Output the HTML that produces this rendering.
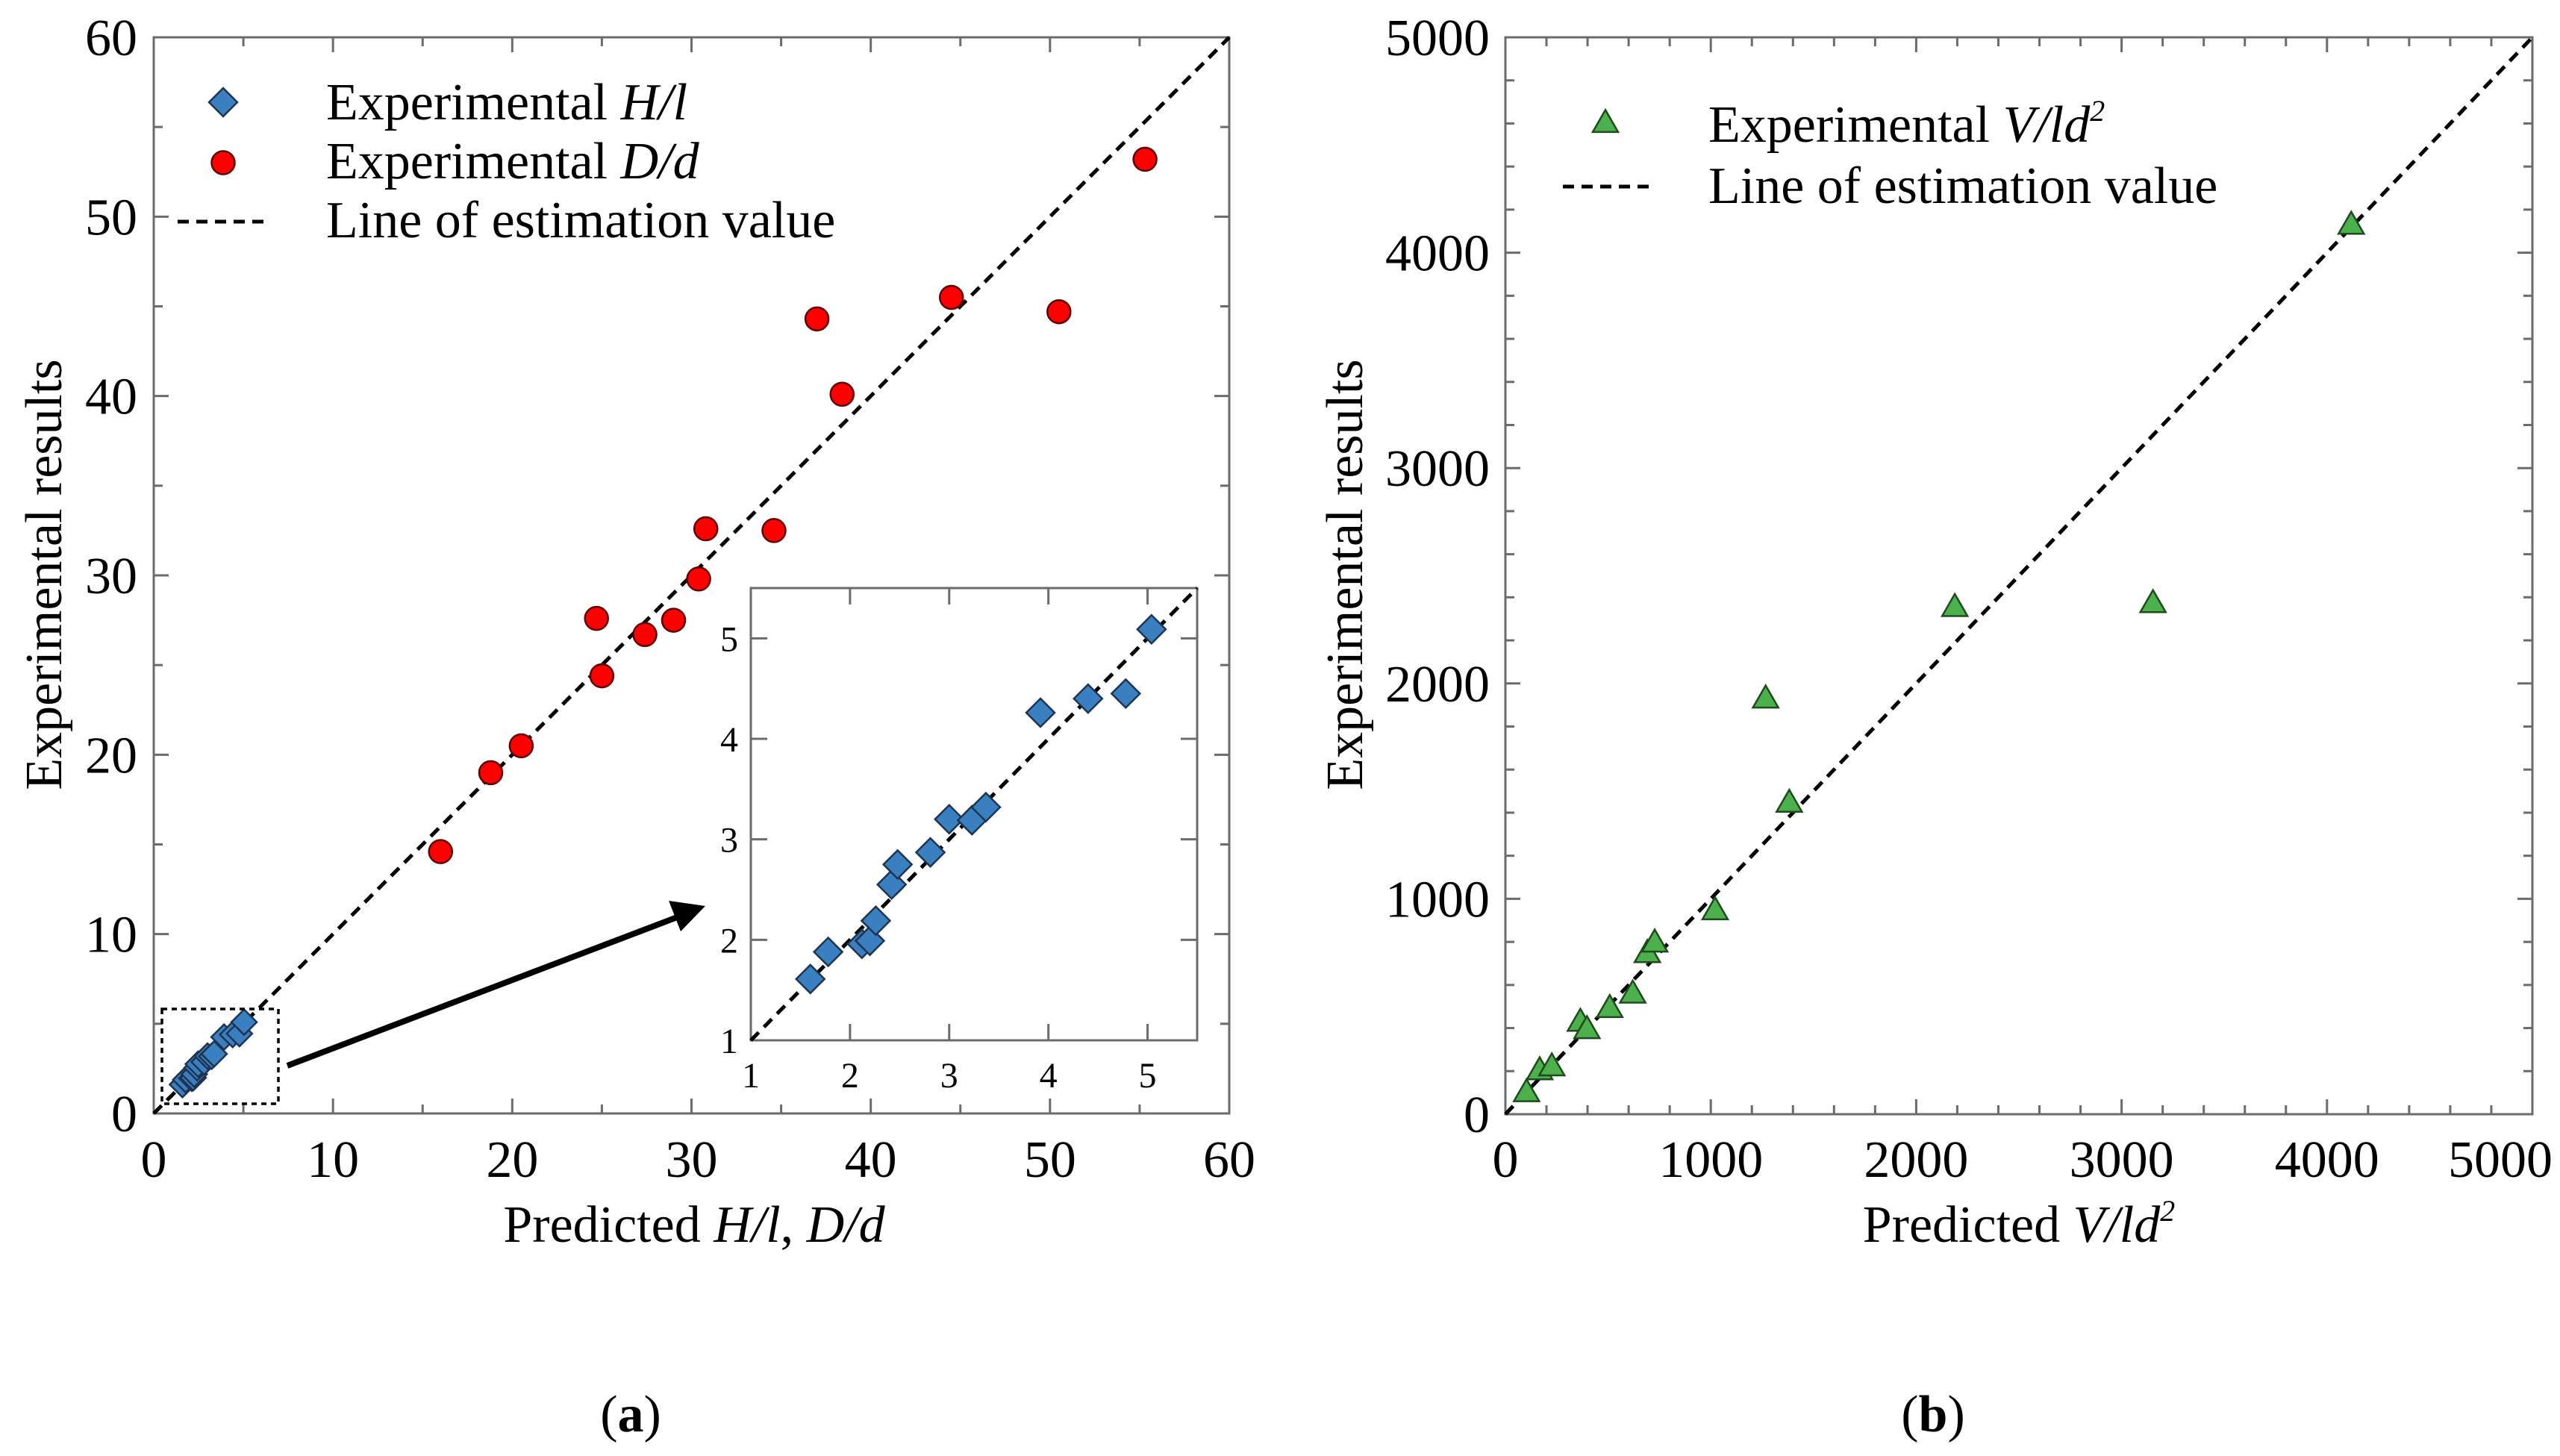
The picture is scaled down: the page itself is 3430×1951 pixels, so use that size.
<!DOCTYPE html>
<html><head><meta charset="utf-8"><style>
html,body{margin:0;padding:0;background:#fff;}
svg{display:block;font-family:"Liberation Serif",serif;}
</style></head><body>
<svg id="fig" width="3430" height="1951" viewBox="0 0 3430 1951" xmlns="http://www.w3.org/2000/svg">
<rect width="3430" height="1951" fill="#fff"/>
<g id="pa"></g>
<g id="pb"></g>
<text x="845" y="1918" font-size="70" text-anchor="middle">(<tspan font-weight="bold">a</tspan>)</text>
<text x="2590" y="1918" font-size="70" text-anchor="middle">(<tspan font-weight="bold">b</tspan>)</text>
</svg>
<script>
// Panel A data
const ddPred = [16.0,18.8,20.5,24.7,25.0,27.4,29.0,30.4,30.8,34.6,37.0,38.4,44.5,50.5,55.3];
const ddExp  = [14.6,19.0,20.5,27.6,24.4,26.7,27.5,29.8,32.6,32.5,44.3,40.1,45.5,44.7,53.2];
const hlPred = [1.60,1.78,2.12,2.20,2.26,2.42,2.48,2.81,3.00,3.23,3.37,3.92,4.40,4.78,5.04];
const hlExp  = [1.61,1.88,1.96,1.99,2.19,2.55,2.75,2.87,3.20,3.19,3.32,4.26,4.40,4.45,5.09];
const aTicks = [0,10,20,30,40,50,60];
const insetTicks = [1,2,3,4,5];
// Panel B data
const vPred = [103,167,226,365,397,508,620,691,727,1021,1267,1382,2188,3153,4118];
const vExp  = [101,203,221,428,394,492,559,747,796,946,1929,1445,2354,2372,4129];
const bTicks = [0,1000,2000,3000,4000,5000];

const NS="http://www.w3.org/2000/svg";
function mk(parent,tag,attrs,text){const e=document.createElementNS(NS,tag);for(const k in attrs)e.setAttribute(k,attrs[k]);if(text!==undefined)e.textContent=text;parent.appendChild(e);return e;}
const AX="#6b6b6b";
const FS=70;

function frame(g,L,T,R,B,sx,sy,xmaj,xmin,ymaj,ymin,xlo,xhi,ylo,yhi,maj,minl,sw){
  mk(g,'rect',{x:L,y:T,width:R-L,height:B-T,fill:'none',stroke:AX,'stroke-width':sw});
  for(let v=xlo;v<=xhi+1e-9;v+=xmin){const x=sx(v);const isM=Math.abs(v/xmaj-Math.round(v/xmaj))<1e-6;const l=isM?maj:minl;if(l<=0)continue;
    mk(g,'line',{x1:x,y1:B,x2:x,y2:B-l,stroke:AX,'stroke-width':sw});mk(g,'line',{x1:x,y1:T,x2:x,y2:T+l,stroke:AX,'stroke-width':sw});}
  for(let v=ylo;v<=yhi+1e-9;v+=ymin){const y=sy(v);const isM=Math.abs(v/ymaj-Math.round(v/ymaj))<1e-6;const l=isM?maj:minl;if(l<=0)continue;
    mk(g,'line',{x1:L,y1:y,x2:L+l,y2:y,stroke:AX,'stroke-width':sw});mk(g,'line',{x1:R,y1:y,x2:R-l,y2:y,stroke:AX,'stroke-width':sw});}
}
function diamond(g,x,y,r,name){const p=mk(g,'path',{d:`M${x} ${y-r}L${x+r} ${y}L${x} ${y+r}L${x-r} ${y}Z`,fill:'#3a7fc0',stroke:'#1d3550','stroke-width':2.5});
  
  }
function circle(g,x,y,r,name){const c=mk(g,'circle',{cx:x,cy:y,r:r,fill:'#f00',stroke:'#5a0000','stroke-width':2.5});
  
  }
function tri(g,x,y,s,name){const h=s*0.87;const p=mk(g,'path',{d:`M${x} ${y-h*0.6}L${x+s/2} ${y+h*0.4}L${x-s/2} ${y+h*0.4}Z`,fill:'#4cb04c',stroke:'#1e4a1e','stroke-width':2.5});
  
  }

// ---- Panel A ----
(function(){
  const g=document.getElementById('pa');
  const L=206,R=1647,T=50,B=1492;
  const sx=v=>L+(v-0)/60*(R-L), sy=v=>B-(v-0)/60*(B-T);
  frame(g,L,T,R,B,sx,sy,10,5,10,5,0,60,0,60,20,12,3);
  aTicks.forEach(v=>{
    const t=mk(g,'text',{x:sx(v),y:1577,'font-size':FS,'text-anchor':'middle'},String(v));
    
    
    const u=mk(g,'text',{x:184,y:sy(v)+24,'font-size':FS,'text-anchor':'end'},String(v));
    
    
  });
  const dl=mk(g,'line',{x1:sx(0),y1:sy(0),x2:sx(60),y2:sy(60),stroke:'#000','stroke-width':5,'stroke-dasharray':'15 10'});
  
  
  hlPred.forEach((v,i)=>diamond(g,sx(v),sy(hlExp[i]),17,'hl-point'));
  ddPred.forEach((v,i)=>circle(g,sx(v),sy(ddExp[i]),15.5,'dd-point'));
  const zb=mk(g,'rect',{x:217,y:1352,width:156,height:127,fill:'none',stroke:'#000','stroke-width':3.5,'stroke-dasharray':'7 6'});
  
  
  const ar=mk(g,'line',{x1:385,y1:1428,x2:910,y2:1228,stroke:'#000','stroke-width':8});
  
  
  mk(g,'path',{d:'M945 1214 L896 1207 L912 1248 Z',fill:'#000'});
  // inset
  const iL=1006,iR=1604,iT=788,iB=1394;
  const ix=v=>iL+(v-1)/4.5*(iR-iL), iy=v=>iB-(v-1)/4.5*(iB-iT);
  const ig=mk(g,'g',{});
  
  
  mk(ig,'rect',{x:iL,y:iT,width:iR-iL,height:iB-iT,fill:'#fff'});
  frame(ig,iL,iT,iR,iB,ix,iy,1,1,1,1,1,5.5,1,5.5,22,0,3);
  insetTicks.forEach(v=>{
    const t=mk(ig,'text',{x:ix(v),y:1457,'font-size':48,'text-anchor':'middle'},String(v));
    
    
    const u=mk(ig,'text',{x:989,y:iy(v)+17,'font-size':48,'text-anchor':'end'},String(v));
    
    
  });
  const il=mk(ig,'line',{x1:ix(1),y1:iy(1),x2:ix(5.5),y2:iy(5.5),stroke:'#000','stroke-width':5,'stroke-dasharray':'15 10'});
  
  
  hlPred.forEach((v,i)=>diamond(ig,ix(v),iy(hlExp[i]),19,'inset-hl-point'));
  // legend
  const lg=mk(g,'g',{});
  
  
  diamond(lg,299,137,19,'legend-marker-hl');
  circle(lg,299,218,15.5,'legend-marker-dd');
  mk(lg,'line',{x1:238,y1:297,x2:358,y2:297,stroke:'#000','stroke-width':5,'stroke-dasharray':'15 10'});
  const e1=mk(lg,'text',{x:437,y:160,'font-size':FS});e1.innerHTML='Experimental <tspan font-style="italic">H/l</tspan>';
  const e2=mk(lg,'text',{x:437,y:239,'font-size':FS});e2.innerHTML='Experimental <tspan font-style="italic">D/d</tspan>';
  mk(lg,'text',{x:437,y:318,'font-size':FS},'Line of estimation value');
  const xt=mk(g,'text',{x:930,y:1664,'font-size':FS,'text-anchor':'middle'});
  xt.innerHTML='Predicted <tspan font-style="italic">H/l</tspan>, <tspan font-style="italic">D/d</tspan>';
  
  
  const yt=mk(g,'text',{x:0,y:0,'font-size':FS,'text-anchor':'middle',transform:'translate(82,770) rotate(-90)'},'Experimental results');
  
  
})();

// ---- Panel B ----
(function(){
  const g=document.getElementById('pb');
  const L=2017,R=3393,T=50,B=1493;
  const sx=v=>L+v/5000*(R-L), sy=v=>B-v/5000*(B-T);
  frame(g,L,T,R,B,sx,sy,1000,200,1000,200,0,5000,0,5000,20,12,3);
  bTicks.forEach((v,i)=>{
    const last=i===bTicks.length-1;
    const t=mk(g,'text',{x:last?3420:sx(v),y:1577,'font-size':FS,'text-anchor':last?'end':'middle'},String(v));
    
    
    const u=mk(g,'text',{x:1996,y:sy(v)+24,'font-size':FS,'text-anchor':'end'},String(v));
    
    
  });
  const dl=mk(g,'line',{x1:sx(0),y1:sy(0),x2:sx(5000),y2:sy(5000),stroke:'#000','stroke-width':5,'stroke-dasharray':'15 10'});
  
  
  vPred.forEach((v,i)=>tri(g,sx(v),sy(vExp[i]),34,'v-point'));
  const lg=mk(g,'g',{});
  
  
  tri(lg,2151,165,34,'legend-marker-v');
  mk(lg,'line',{x1:2094,y1:250,x2:2215,y2:250,stroke:'#000','stroke-width':5,'stroke-dasharray':'15 10'});
  const e1=mk(lg,'text',{x:2289,y:190,'font-size':FS});e1.innerHTML='Experimental <tspan font-style="italic">V/ld<tspan font-size="40" dy="-28">2</tspan></tspan>';
  mk(lg,'text',{x:2289,y:272,'font-size':FS},'Line of estimation value');
  const xt=mk(g,'text',{x:2705,y:1664,'font-size':FS,'text-anchor':'middle'});
  xt.innerHTML='Predicted <tspan font-style="italic">V/ld<tspan font-size="40" dy="-28">2</tspan></tspan>';
  
  
  const yt=mk(g,'text',{x:0,y:0,'font-size':FS,'text-anchor':'middle',transform:'translate(1825,770) rotate(-90)'},'Experimental results');
  
  
})();
</script>
</body></html>
